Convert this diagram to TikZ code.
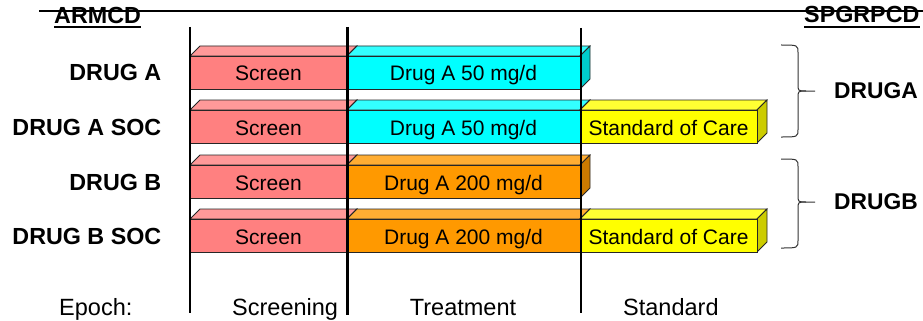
\documentclass[tikz,border=0pt]{standalone}
\usepackage{fontspec}
\setmainfont{Liberation Sans}
\definecolor{pinkF}{RGB}{255,128,128}
\definecolor{pinkT}{RGB}{255,153,153}
\definecolor{pinkS}{RGB}{204,102,102}
\definecolor{cyanF}{RGB}{0,255,255}
\definecolor{cyanT}{RGB}{51,255,255}
\definecolor{cyanS}{RGB}{0,204,204}
\definecolor{orgF}{RGB}{255,153,0}
\definecolor{orgT}{RGB}{255,173,51}
\definecolor{orgS}{RGB}{204,122,0}
\definecolor{yelF}{RGB}{255,255,0}
\definecolor{yelT}{RGB}{255,255,51}
\definecolor{yelS}{RGB}{204,204,0}
\newcommand{\cubebar}[8]{%
  \filldraw[edge, fill=#6] (#2,#4) -- (#2+10,#4-10) -- (#3+10,#4-10) -- (#3,#4) -- cycle;
  \filldraw[edge, fill=#7] (#3,#4) -- (#3+10,#4-10) -- (#3+10,#4+23) -- (#3,#4+33) -- cycle;
  \filldraw[edge, fill=#5] (#2,#4) rectangle (#3,#4+33);
  \node[boxtext] (#1) at ({(#2+#3)/2},#4+25) {#8};
}
\begin{document}
\begin{tikzpicture}[x=1pt,y=-1pt,
  edge/.style={draw=black!85, line width=0.8pt},
  boxtext/.style={anchor=base, inner sep=0pt, font=\fontsize{21}{25}\selectfont},
  armlabel/.style={anchor=base east, inner sep=0pt, font=\fontsize{23.3}{27}\selectfont\bfseries},
  headlabel/.style={anchor=base west, inner sep=0pt, font=\fontsize{23.3}{27}\selectfont\bfseries},
  grplabel/.style={anchor=west, inner sep=0pt, font=\fontsize{22.8}{27}\selectfont\bfseries},
  epochlabel/.style={anchor=base west, inner sep=0pt, font=\fontsize{23.5}{27}\selectfont},
  epochline/.style={line width=2pt},
  bracestyle/.style={draw=black!80, line width=1pt}]
\useasboundingbox (0,0) rectangle (923,321);

% header
\node[headlabel] (armcd) at (54,24) {ARMCD};
\node[headlabel] (spgrpcd) at (804,23) {SPGRPCD};
\draw[line width=2pt] ([yshift=-3.5pt]armcd.base west) -- ([yshift=-3.5pt]armcd.base east);
\draw[line width=2pt] ([yshift=-4.5pt]spgrpcd.base west) -- ([yshift=-4.5pt]spgrpcd.base east);
\coordinate (hl) at (39,11);
\coordinate (hr) at (923,11);
\draw[line width=2pt] (hl) -- (hr);

% arm labels
\node[armlabel] (la) at (161.5,81) {DRUG A};
\node[armlabel] (lasoc) at (161.5,135) {DRUG A SOC};
\node[armlabel] (lb) at (161.5,190) {DRUG B};
\node[armlabel] (lbsoc) at (161.5,244) {DRUG B SOC};

% bars
\cubebar{s1}{190}{347}{56}{pinkF}{pinkT}{pinkS}{Screen}
\cubebar{t1}{347}{580}{56}{cyanF}{cyanT}{cyanS}{Drug A 50 mg/d}

\cubebar{s2}{190}{347}{110}{pinkF}{pinkT}{pinkS}{Screen}
\cubebar{t2}{347}{580}{110}{cyanF}{cyanT}{cyanS}{Drug A 50 mg/d}
\cubebar{c2}{580}{757}{110}{yelF}{yelT}{yelS}{Standard of Care}

\cubebar{s3}{190}{347}{165}{pinkF}{pinkT}{pinkS}{Screen}
\cubebar{t3}{347}{580}{165}{orgF}{orgT}{orgS}{Drug A 200 mg/d}

\cubebar{s4}{190}{347}{219}{pinkF}{pinkT}{pinkS}{Screen}
\cubebar{t4}{347}{580}{219}{orgF}{orgT}{orgS}{Drug A 200 mg/d}
\cubebar{c4}{580}{757}{219}{yelF}{yelT}{yelS}{Standard of Care}

% epoch lines
\coordinate (v1t) at (190,27); \coordinate (v1b) at (190,313);
\coordinate (v2t) at (347,27); \coordinate (v2b) at (347,315);
\coordinate (v3t) at (581,28); \coordinate (v3b) at (581,313);
\draw[epochline] (v1t) -- (v1b);
\draw[line width=3pt] (v2t) -- (v2b);
\draw[epochline] (v3t) -- (v3b);

% epoch labels
\node[epochlabel] (ep) at (59,315) {Epoch:};
\node[epochlabel] (e1) at (232,315) {Screening};
\node[epochlabel, anchor=base] (e2) at (463,315) {Treatment};
\node[epochlabel] (e3) at (623,315) {Standard};

% braces
\draw[bracestyle] (781,45) .. controls (798,45) .. (798,53) -- (798,84)
  .. controls (798,91) .. (806,91) -- (815,91);
\draw[bracestyle] (781,137) .. controls (798,137) .. (798,129) -- (798,98)
  .. controls (798,91) .. (806,91);
\draw[bracestyle] (781,159) .. controls (798,159) .. (798,167) -- (798,195)
  .. controls (798,202) .. (806,202) -- (815,202);
\draw[bracestyle] (781,248) .. controls (798,248) .. (798,240) -- (798,209)
  .. controls (798,202) .. (806,202);
\node[grplabel] (ga) at (834,91) {DRUGA};
\node[grplabel] (gb) at (834,202) {DRUGB};
\end{tikzpicture}
\end{document}
